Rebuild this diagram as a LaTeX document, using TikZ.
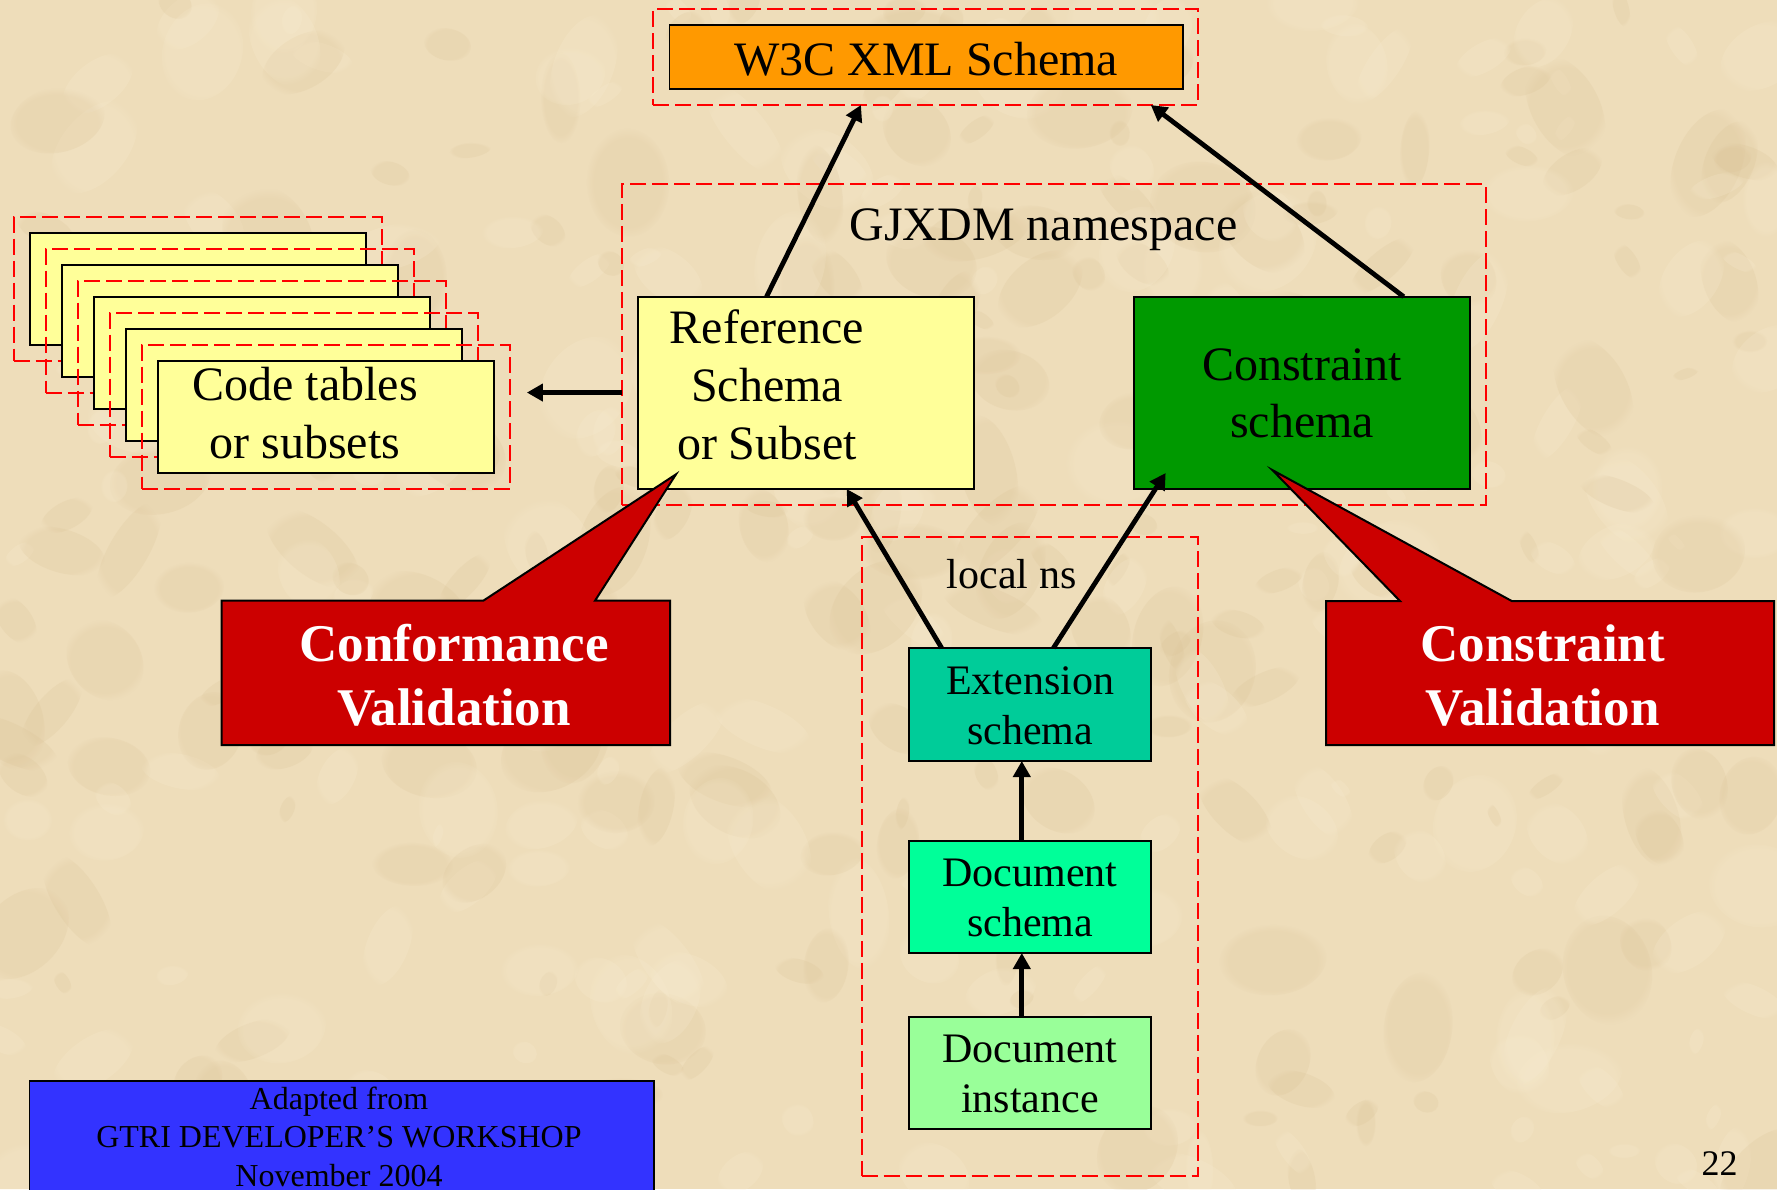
\documentclass[tikz,border=0pt]{standalone}
\usepackage{fontspec}
\setmainfont{Liberation Serif}
\usetikzlibrary{arrows.meta,calc,fit,fadings}

\definecolor{parch}{RGB}{238,221,186}
\definecolor{parchdark}{RGB}{218,194,150}
\definecolor{parchlight}{RGB}{249,237,210}
\definecolor{orangebox}{HTML}{FF9900}
\definecolor{paleyellow}{HTML}{FFFF99}
\definecolor{darkgreen}{HTML}{009900}
\definecolor{extgreen}{HTML}{00CC99}
\definecolor{docgreen}{HTML}{00FF99}
\definecolor{instgreen}{HTML}{99FF99}
\definecolor{calloutred}{HTML}{CC0000}
\definecolor{footerblue}{HTML}{3333FF}

\tikzset{
  box/.style={draw=black, line width=0.9pt, inner sep=0pt, outer sep=0pt},
  group/.style={draw=red, line width=1pt, dash pattern=on 8pt off 3pt, inner sep=0pt, outer sep=0pt},
  link/.style={line width=2.4pt, -{Triangle[length=8pt,width=8.5pt]}},
  bigtxt/.style={font=\fontsize{24}{29}\selectfont, align=center, inner sep=0pt},
  midtxt/.style={font=\fontsize{21}{25}\selectfont, align=center, inner sep=0pt},
  calltxt/.style={font=\bfseries\fontsize{26.5}{32}\selectfont, text=white, align=center, inner sep=0pt},
  callout/.style={fill=calloutred, draw=black, line width=1pt, line join=miter},
}

\begin{document}
\begin{tikzpicture}[x=0.5pt, y=-0.5pt]
\useasboundingbox (0,0) rectangle (1777,1189);
\clip (0,0) rectangle (1777,1189);

% parchment background with soft mottling
\fill[parch] (0,0) rectangle (1777,1189);
\pgfmathsetseed{11}
\foreach \i in {1,...,420}{
  \pgfmathsetmacro{\bx}{rnd*1777}
  \pgfmathsetmacro{\by}{rnd*1189}
  \pgfmathsetmacro{\br}{12+rnd*45}
  \pgfmathsetmacro{\bq}{0.35+rnd*0.5}
  \pgfmathsetmacro{\ba}{rnd*180}
  \pgfmathsetmacro{\bk}{rnd}
  \ifdim\bk pt<0.5pt \def\bcol{parchdark}\else\def\bcol{parchlight}\fi
  \fill[\bcol, opacity=0.22, path fading=circle with fuzzy edge 20 percent, rotate around={\ba:(\bx,\by)}]
    (\bx,\by) ellipse [x radius=\br, y radius=\bq*\br];
}

% W3C schema
\node[group, fit={(653.4,9) (1198.2,105)}] (w3cgrp) {};
\node[box, fill=orangebox, fit={(669.5,24.7) (1182.7,89)}] (w3c) {};
\node[bigtxt, anchor=base] (w3ctxt) at (926,75) {W3C XML Schema};

% GJXDM namespace
\node[group, fit={(621.8,184.3) (1485.8,504.7)}] (gjx) {};
\node[bigtxt, anchor=base] (gjxlabel) at (1043.5,240) {GJXDM namespace};
\node[box, fill=paleyellow, fit={(637.9,296.7) (973.7,489)}] (ref) {};
\node[bigtxt] (reftxt) at (767,385) {Reference\\Schema\\or Subset};
\node[box, fill=darkgreen, fit={(1133.9,296.7) (1470.3,489)}] (cons) {};
\node[bigtxt, font=\fontsize{24}{28.3}\selectfont] (constxt) at (1302,393.6) {Constraint\\schema};

% stack of code tables
\foreach \i in {1,...,5}{
  \pgfmathsetmacro{\sx}{29.6+32.07*(\i-1)}
  \pgfmathsetmacro{\sy}{232.7+32*(\i-1)}
  \node[group, fit={(\sx-16,\sy-16) (\sx+352,\sy+128)}] (ctg\i) {};
  \node[box, fill=paleyellow, fit={(\sx,\sy) (\sx+336,\sy+112)}] (ct\i) {};
}
\node[bigtxt] (cttxt) at (305,412.6) {Code tables\\or subsets};

% local namespace
\node[group, fit={(861.7,537) (1198.3,1176)}] (localgrp) {};
\node[midtxt, anchor=base] (locallabel) at (1011.7,588.3) {local ns};
\node[box, fill=extgreen, fit={(909.3,648) (1150.7,761)}] (ext) {};
\node[midtxt] (exttxt) at (1030,706) {Extension\\schema};
\node[box, fill=docgreen, fit={(909.3,840.8) (1150.7,953)}] (docs) {};
\node[midtxt] (docstxt) at (1030,897.7) {Document\\schema};
\node[box, fill=instgreen, fit={(909.3,1017) (1150.7,1129.2)}] (doci) {};
\node[midtxt] (docitxt) at (1030,1073.6) {Document\\instance};

% connectors
\draw[link] ($(ref.north west)!0.383!(ref.north east)$) -- ($(w3cgrp.south west)!0.381!(w3cgrp.south east)$);
\draw[link] ($(cons.north west)!0.802!(cons.north east)$) -- ($(w3cgrp.south west)!0.913!(w3cgrp.south east)$);
\draw[link] ($(ext.north west)!0.134!(ext.north east)$) -- ($(ref.south west)!0.622!(ref.south east)$);
\draw[link, shorten >=-9.5pt] ($(ext.north west)!0.597!(ext.north east)$) -- ($(cons.south west)!0.064!(cons.south east)$);
\draw[link] ($(docs.north west)!0.466!(docs.north east)$) -- ($(ext.south west)!0.466!(ext.south east)$);
\draw[link] ($(doci.north west)!0.466!(doci.north east)$) -- ($(docs.south west)!0.466!(docs.south east)$);
\coordinate (gjout) at ($(gjx.north west)!0.65!(gjx.south west)$);
\draw[link, shorten >=8.5pt] (gjout) -- (gjout -| ctg5.east);

% validation callouts
\filldraw[callout] (221.7,600.7) -- (483.3,600.7) -- (676,474.3) -- (595,600.7)
  -- (670,600.7) -- (670,745) -- (221.7,745) -- cycle;
\node[calltxt] (confval) at (454,675.7) {Conformance\\Validation};
\filldraw[callout] (1326,601) -- (1400,601) -- (1272.3,470) -- (1511.7,601)
  -- (1774,601) -- (1774,745) -- (1326,745) -- cycle;
\node[calltxt] (consval) at (1542.7,675.7) {Constraint\\Validation};

% footer and page number
\node[box, fill=footerblue, fit={(29.5,1080.7) (654,1200)}] (footer) {};
\node[font=\fontsize{16}{19.25}\selectfont, align=center, inner sep=0pt] (footertxt)
  at (339,1136.4) {Adapted from\\GTRI DEVELOPER’S WORKSHOP\\November 2004};
\node[font=\fontsize{18}{22}\selectfont, anchor=base, inner sep=0pt] (pagenum) at (1719.5,1175) {22};
\end{tikzpicture}
\end{document}
